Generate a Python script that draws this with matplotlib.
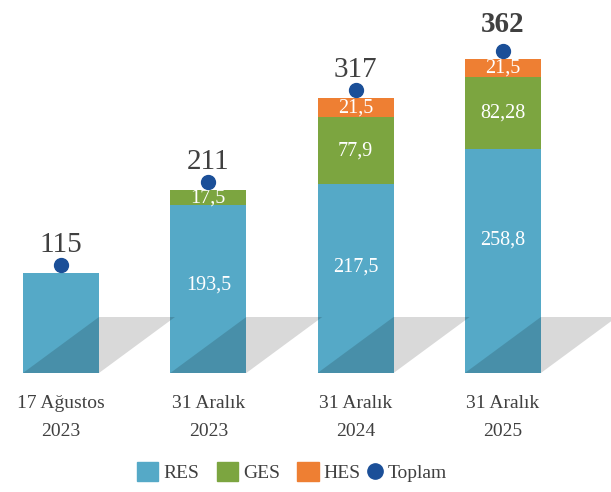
import numpy as np
import matplotlib
matplotlib.use("Agg")
import matplotlib.pyplot as plt
from matplotlib.patches import Polygon, Patch
from matplotlib.lines import Line2D
from matplotlib.legend_handler import HandlerBase
from matplotlib.transforms import offset_copy

# Data
categories = ["17 Ağustos\n2023", "31 Aralık\n2023", "31 Aralık\n2024", "31 Aralık\n2025"]
res = [115, 193.5, 217.5, 258.8]
ges = [0, 17.5, 77.9, 82.28]
hes = [0, 0, 21.5, 21.5]
totals = [115, 211, 317, 362]
res_labels = ["", "193,5", "217,5", "258,8"]
ges_labels = ["", "17,5", "77,9", "82,28"]
hes_labels = ["", "", "21,5", "21,5"]

C_RES = "#55a9c7"
C_GES = "#7ca540"
C_HES = "#ee7f33"
C_DOT = "#1b4f98"
C_TXT = "#404040"

plt.rcParams['font.family'] = ['Liberation Serif', 'DejaVu Serif']


# legend handler: small circle sitting close to the previous entry
class _DotHandler(HandlerBase):
    def legend_artist(self, legend, orig_handle, fontsize, handlebox):
        handlebox.width = 0.25 * fontsize
        cy = (handlebox.height - 2 * handlebox.ydescent) / 2
        ln = Line2D([-2.0], [cy], marker='o', ls='none', ms=11,
                    color=orig_handle.get_color())
        handlebox.add_artist(ln)
        return ln


fig = plt.figure(figsize=(6.11, 4.92), dpi=100)
ax = fig.add_axes([0, 119 / 492, 1, 373 / 492])

x = np.arange(len(categories))
w = 0.516
res_a, ges_a, hes_a = np.array(res), np.array(ges), np.array(hes)

ax.bar(x, res_a, w, color=C_RES, zorder=2)
ax.bar(x, ges_a, w, bottom=res_a, color=C_GES, zorder=2)
ax.bar(x, hes_a, w, bottom=res_a + ges_a, color=C_HES, zorder=2)

# floor shadows
dy = 64.6
for xi in x:
    L, R = xi - w / 2, xi + w / 2
    poly = Polygon([(L, 0), (R, dy), (R + w, dy), (R, 0)], closed=True,
                   facecolor='black', alpha=0.15, edgecolor='none', zorder=3)
    ax.add_patch(poly)

# segment labels (RES labels sit a little above the middle)
nudge = [0, 4, 12, 21]
for xi, r, g, h, rl, gl, hl, n in zip(x, res_a, ges_a, hes_a, res_labels, ges_labels, hes_labels, nudge):
    if rl:
        ax.annotate(rl, (xi, r / 2), xytext=(0, n), textcoords='offset pixels',
                    ha='center', va='center', color='white', fontsize=14.5, zorder=4)
    if gl:
        ax.text(xi, r + g / 2, gl, ha='center', va='center', color='white', fontsize=14.5, zorder=4)
    if hl:
        ax.text(xi, r + g + h / 2, hl, ha='center', va='center', color='white', fontsize=14.5, zorder=4)

# totals
tops = res_a + ges_a + hes_a
dot_tr = offset_copy(ax.transData, fig=fig, y=8, units='dots')
ax.plot(x, tops, 'o', color=C_DOT, ms=10, transform=dot_tr, zorder=5)
for i, (xi, t, v) in enumerate(zip(x, tops, totals)):
    last = i == len(totals) - 1
    ax.annotate(str(v), (xi, t), xytext=(0, 27 if last else 21), textcoords='offset pixels',
                ha='center', va='baseline', fontsize=21, color=C_TXT,
                fontweight='bold' if last else 'normal')

ax.set_xlim(-61 / 147.3, 550 / 147.3)
ax.set_ylim(0, 373 / 0.867)
ax.set_xticks(x)
ax.set_xticklabels(categories, fontsize=14, color=C_TXT, linespacing=1.8)
ax.tick_params(axis='x', length=0, pad=16)
ax.set_yticks([])
for s in ax.spines.values():
    s.set_visible(False)

dot = Line2D([], [], marker='o', ls='none', color=C_DOT, label='Toplam')
handles = [Patch(color=C_RES, label='RES'), Patch(color=C_GES, label='GES'),
           Patch(color=C_HES, label='HES'), dot]
leg = fig.legend(handles=handles, loc='center', bbox_to_anchor=(292 / 611, 20 / 492), ncol=4,
                 frameon=False, fontsize=14, handlelength=1.1, handleheight=1.1,
                 handletextpad=0.25, columnspacing=0.9,
                 handler_map={dot: _DotHandler()})
for t in leg.get_texts():
    t.set_color(C_TXT)

fig.savefig("out.png", dpi=100)
